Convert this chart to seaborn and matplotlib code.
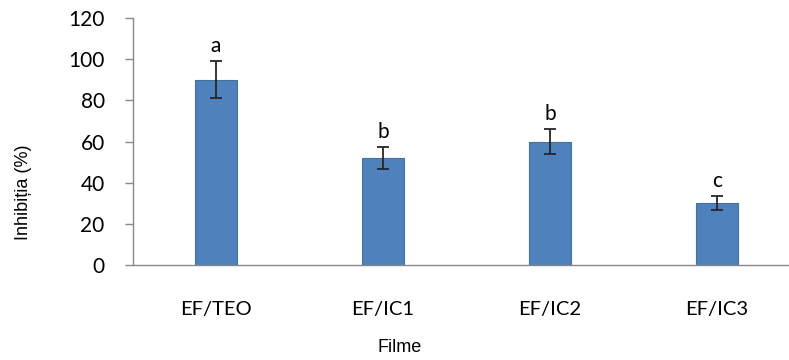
import matplotlib
matplotlib.use("Agg")
import matplotlib.pyplot as plt
import seaborn as sns
import pandas as pd

# Inhibition per film type, with standard deviations and significance letters
films = ["EF/TEO", "EF/IC1", "EF/IC2", "EF/IC3"]
inhibition = [90, 52, 60, 30]
std_dev = [9, 5.3, 6, 3.4]
letters = ["a", "b", "b", "c"]

df = pd.DataFrame({"Filme": films, "Inhibitia": inhibition})

sns.set_theme(style="white")
plt.rcParams["font.family"] = ["Lato", "DejaVu Sans"]

fig = plt.figure(figsize=(7.89, 3.60), dpi=100)
# axes box in figure coordinates (plot area runs a little past the right edge)
ax = fig.add_axes([132.5 / 789, (360 - 265) / 360, (800.5 - 132.5) / 789, (265 - 18) / 360])

bar_color = "#4F81BD"
sns.barplot(data=df, x="Filme", y="Inhibitia", ax=ax, color=bar_color,
            width=0.25, errorbar=None, saturation=1,
            edgecolor="#41719C", linewidth=0.8)

ax.errorbar(range(len(films)), inhibition, yerr=std_dev, fmt="none",
            ecolor="#262626", elinewidth=1.3, capsize=4.5, capthick=1.3, zorder=5)

for i, (v, e, lab) in enumerate(zip(inhibition, std_dev, letters)):
    ax.annotate(lab, xy=(i, v + e), xytext=(0, 4), textcoords="offset points",
                ha="center", va="bottom", fontsize=15, color="black")

ax.set_ylim(0, 120)
ax.set_yticks(range(0, 121, 20))
ax.set_xlim(-0.5, 3.5)
ax.set_xlabel("")
ax.set_ylabel("")

for side in ["top", "right"]:
    ax.spines[side].set_visible(False)
for side in ["left", "bottom"]:
    ax.spines[side].set_color("#888888")
    ax.spines[side].set_linewidth(1.0)

ax.tick_params(axis="y", which="both", left=True, length=6, width=1,
               color="#888888", pad=14, labelsize=15, labelcolor="black")
ax.tick_params(axis="x", bottom=False, pad=20, labelsize=14.5, labelcolor="black")

fig.text(400 / 789, 1 - 347 / 360, "Filme", ha="center", va="center",
         fontsize=13, family=["Liberation Sans", "DejaVu Sans"], color="black")
fig.text(24 / 789, 1 - 192 / 360, "Inhibiția (%)", ha="center", va="center",
         rotation=90, fontsize=13, family=["Liberation Sans", "DejaVu Sans"], color="black")

fig.savefig("out.png", dpi=100)
